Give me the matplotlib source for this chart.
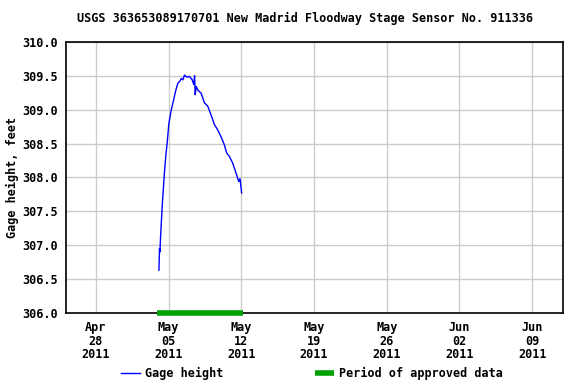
import matplotlib
matplotlib.use("Agg")
import matplotlib.pyplot as plt
import pandas as pd

# gage height readings (feet)
times = ["2011-05-04 01:40", "2011-05-04 03:00", "2011-05-04 04:00", "2011-05-04 05:30",
         "2011-05-04 07:10", "2011-05-04 09:40", "2011-05-04 12:30", "2011-05-04 14:50",
         "2011-05-04 17:45", "2011-05-04 21:00", "2011-05-05 00:40", "2011-05-05 06:15",
         "2011-05-05 11:30", "2011-05-05 16:00", "2011-05-05 21:20", "2011-05-06 02:00",
         "2011-05-06 05:15", "2011-05-06 09:00", "2011-05-06 12:45", "2011-05-06 18:00",
         "2011-05-07 00:15", "2011-05-07 06:30", "2011-05-07 08:30", "2011-05-07 10:20",
         "2011-05-07 12:00", "2011-05-07 13:25", "2011-05-07 16:00", "2011-05-07 19:25",
         "2011-05-08 03:20", "2011-05-08 10:50", "2011-05-08 18:30", "2011-05-09 02:10",
         "2011-05-09 09:50", "2011-05-09 17:30", "2011-05-10 01:10", "2011-05-10 08:50",
         "2011-05-10 14:10", "2011-05-10 20:25", "2011-05-11 04:05", "2011-05-11 12:00",
         "2011-05-11 18:00", "2011-05-11 21:00", "2011-05-12 00:45"]
gage = [306.63, 306.95, 306.90, 307.13,
        307.33, 307.62, 307.89, 308.11,
        308.33, 308.53, 308.80, 309.00,
        309.14, 309.27, 309.39, 309.42,
        309.46, 309.44, 309.51, 309.48,
        309.49, 309.44, 309.40, 309.37,
        309.50, 309.22, 309.34, 309.29,
        309.24, 309.10, 309.05, 308.92,
        308.78, 308.70, 308.60, 308.48,
        308.36, 308.31, 308.21, 308.06,
        307.94, 307.98, 307.77]

approved_start = "2011-05-03 22:00"
approved_end = "2011-05-12 03:00"

tick_dates = ["2011-04-28", "2011-05-05", "2011-05-12", "2011-05-19",
              "2011-05-26", "2011-06-02", "2011-06-09"]
y_ticks = [306.0, 306.5, 307.0, 307.5, 308.0, 308.5, 309.0, 309.5, 310.0]

font = "DejaVu Sans Mono"

fig = plt.figure(figsize=(5.76, 3.84), dpi=100)
ax = fig.add_axes([0.1146, 0.185, 0.862, 0.706])

t = pd.to_datetime(times)
ax.plot(t, gage, color="#0000ff", lw=1, label="Gage height")
ax.plot(pd.to_datetime([approved_start, approved_end]), [306.0, 306.0],
        color="#00a000", lw=4, solid_capstyle="butt", clip_on=False,
        label="Period of approved data", zorder=5)

ax.set_xlim(pd.Timestamp("2011-04-25 03:00"), pd.Timestamp("2011-06-11 22:00"))
ax.set_ylim(306.0, 310.0)
ax.set_yticks(y_ticks)
ax.set_yticklabels(["%.1f" % v for v in y_ticks], fontfamily=font,
                   fontweight="bold", fontsize=8.5)
td = pd.to_datetime(tick_dates)
ax.set_xticks(td)
ax.set_xticklabels([d.strftime("%b\n%d\n%Y") for d in td], fontfamily=font,
                   fontweight="bold", fontsize=8.5, linespacing=1.05)
ax.tick_params(length=0, pad=6)
ax.grid(True, color="#cccccc", lw=1)
ax.set_axisbelow(True)
for s in ax.spines.values():
    s.set_linewidth(1.2)

ax.set_ylabel("Gage height, feet", fontfamily=font, fontweight="bold",
              fontsize=8.5, labelpad=2)
fig.text(0.529, 0.952,
         "USGS 363653089170701 New Madrid Floodway Stage Sensor No. 911336",
         ha="center", va="center", fontfamily=font, fontweight="bold",
         fontsize=8.5)

fig.legend(loc="lower center", bbox_to_anchor=(0.542, -0.018), ncol=2,
           frameon=False, columnspacing=7.8, handlelength=1.6,
           handletextpad=0.4,
           prop={"family": font, "weight": "bold", "size": 8.5})

fig.savefig("out.png", dpi=100)
